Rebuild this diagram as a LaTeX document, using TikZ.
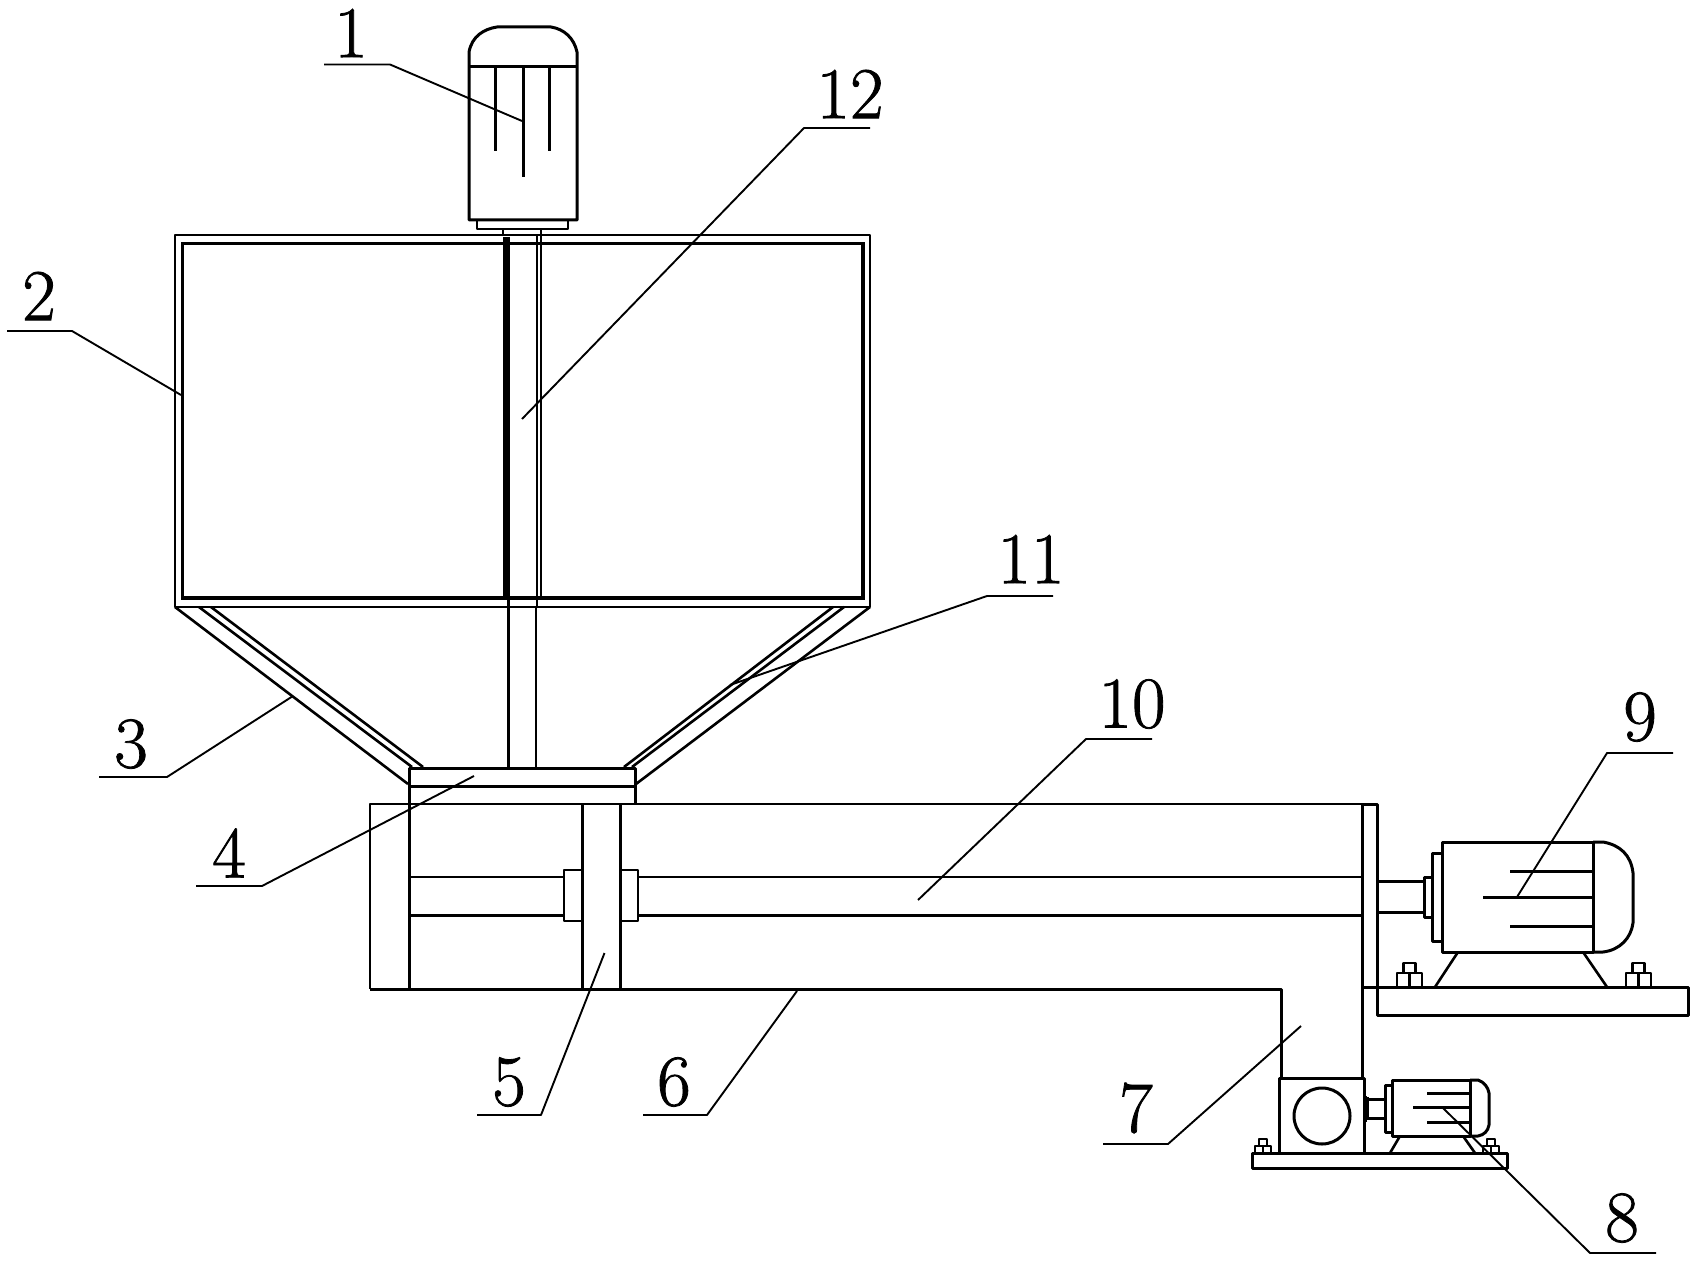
\documentclass[tikz,border=0pt]{standalone}
\usepackage{fontspec}
\newfontfamily\numfont[FakeBold=1.1]{Latin Modern Roman}
\tikzset{
  part/.style={line width=3pt,line join=round},
  fine part/.style={line width=2.6pt,line join=round},
  leader/.style={line width=1.9pt,line join=round},
  num/.style={font=\fontsize{73}{73}\numfont,inner sep=0pt},
}
\begin{document}
\begin{tikzpicture}[x=1pt,y=-1pt]
\useasboundingbox (0,0) rectangle (1699,1265);

% mixer motor
\draw[part] (469,220) -- (469,52) .. controls (472,36) and (484,29) .. (497,27) -- (551,27)
  .. controls (564,29) and (574,38) .. (577,52) -- (577,220) -- cycle;
\draw[part] (469,67) -- (577,67);
\draw[part] (495,67) -- (495,151) (523,67) -- (523,177) (549,67) -- (549,151);
\draw[fine part] (477,220) -- (477,229) -- (568,229) -- (568,220);
\draw[fine part] (503,229) -- (503,235) (541,229) -- (541,235);

% tank
\draw[fine part] (175,235) rectangle (870,607);
\draw[line width=3.8pt] (182.5,243.5) rectangle (863,598);
\draw[line width=7pt] (506,237) -- (506,598);
\draw[fine part] (537,235) -- (537,607) (541,235) -- (541,598);
\draw[part] (508,598) -- (508,768);
\draw[fine part] (536,607) -- (536,768);

% funnel
\draw[fine part] (175,607) -- (408,784) (199,607) -- (412,767) (211,607) -- (423,767);
\draw[fine part] (870,607) -- (636,784) (844,607) -- (632,767) (833,607) -- (624,767);

% plate under the funnel
\draw[part] (409,989) -- (409,768) -- (635,768) -- (635,803);
\draw[part] (409,786) -- (635,786);

% trough
\draw[fine part] (1362,804) -- (370,804) -- (370,989);
\draw[part] (370,989) -- (1281,989) -- (1281,1078);
\draw[part] (1362,804) -- (1362,1078);
\draw[part] (1362,804) -- (1377,804) -- (1377,987) (1362,987) -- (1377,987);
\draw[fine part] (582.5,804) -- (582.5,989);
\draw[part] (620,804) -- (620,989);

% screw shaft
\draw[fine part] (409,877) -- (564,877) (638,877) -- (1362,877);
\draw[part] (409,915) -- (564,915) (638,915) -- (1362,915);
\draw[fine part] (582.5,870) -- (564,870) -- (564,921) -- (582.5,921);
\draw[fine part] (620,870) -- (638,870) -- (638,921) -- (620,921);

% big motor
\draw[part] (1377,881) -- (1424,881) (1377,912) -- (1424,912);
\draw[part] (1432,877) -- (1424,877) -- (1424,917) -- (1432,917);
\draw[part] (1442,853) -- (1432,853) -- (1432,941) -- (1442,941);
\draw[part] (1442,842) rectangle (1593,952);
\draw[part] (1593,842) -- (1603,842) .. controls (1620,845) and (1631,855) .. (1633,873) -- (1633,923)
  .. controls (1631,938) and (1620,950) .. (1603,952) -- (1593,952);
\draw[part] (1510,871) -- (1593,871) (1483,897) -- (1593,897) (1510,926) -- (1593,926);
\draw[fine part] (1458,952) -- (1435,987) (1583,952) -- (1607,987);
\foreach \boltx in {1409.5,1638.5} {
  \draw[fine part] (\boltx-12.5,987) -- (\boltx-12.5,973) -- (\boltx+12.5,973) -- (\boltx+12.5,987);
  \draw[fine part] (\boltx,973) -- (\boltx,987);
  \draw[fine part] (\boltx-6,973) -- (\boltx-6,963) -- (\boltx+6,963) -- (\boltx+6,973);
}
\draw[part] (1377,987) rectangle (1688,1015);

% gearbox and small motor
\draw[part] (1279,1153) -- (1279,1078) -- (1364,1078) -- (1364,1153);
\draw[part] (1322,1116) circle (28);
\draw[part] (1367,1097) -- (1364,1097) (1367,1120) -- (1364,1120) (1367,1097) -- (1367,1120);
\draw[part] (1367,1099) -- (1385,1099) (1367,1118) -- (1385,1118);
\draw[part] (1392,1085) -- (1385,1085) -- (1385,1132) -- (1392,1132);
\draw[part] (1392,1080) rectangle (1470,1136);
\draw[part] (1470,1080) -- (1478,1080) .. controls (1484,1082) and (1488,1087) .. (1489,1093) -- (1489,1125)
  .. controls (1488,1131) and (1484,1135) .. (1478,1136) -- (1470,1136);
\draw[part] (1427,1093) -- (1470,1093) (1413,1107) -- (1470,1107) (1427,1122) -- (1470,1122);
\draw[fine part] (1400,1136) -- (1390,1153) (1463,1136) -- (1475,1153);
\foreach \boltx in {1263,1491} {
  \draw[fine part] (\boltx-8,1153) -- (\boltx-8,1146) -- (\boltx+8,1146) -- (\boltx+8,1153);
  \draw[fine part] (\boltx,1146) -- (\boltx,1153);
  \draw[fine part] (\boltx-4,1146) -- (\boltx-4,1139) -- (\boltx+4,1139) -- (\boltx+4,1146);
}
\draw[part] (1252,1153) rectangle (1507,1168);

% numbers
\node[num] (n1) at (351,33) {1};
\node[num] (n2) at (39,296) {2};
\node[num] (n3) at (131,744) {3};
\node[num] (n4) at (229,853) {4};
\node[num] (n5) at (509,1082) {5};
\node[num] (n6) at (674,1082) {6};
\node[num] (n7) at (1136,1108) {7};
\node[num] (n8) at (1622,1218) {8};
\node[num] (n9) at (1640,717) {9};
\node[num] (n10) at (1132,704) {10};
\node[num] (n11) at (1031,559) {11};
\node[num] (n12) at (850,94) {12};

% leader ends on the parts
\coordinate (p1) at (522,121);
\coordinate (p2) at (181,395);
\coordinate (p3) at (293,696);
\coordinate (p4) at (474,776);
\coordinate (p5) at (604.5,953);
\coordinate (p6) at (797,991);
\coordinate (p7) at (1301,1026);
\coordinate (p8) at (1443,1108);
\coordinate (p9) at (1517,897);
\coordinate (p10) at (918,900);
\coordinate (p11) at (730,685);
\coordinate (p12) at (522,419);

% leaders with the rule under each number
\draw[leader] (324,64.5) -- (390,64.5) -- (p1);
\draw[leader] (7,331) -- (72,331) -- (p2);
\draw[leader] (99,777) -- (167,777) -- (p3);
\draw[leader] (196,886) -- (262,886) -- (p4);
\draw[leader] (477,1115) -- (541,1115) -- (p5);
\draw[leader] (643,1115) -- (707,1115) -- (p6);
\draw[leader] (1103,1144) -- (1168,1144) -- (p7);
\draw[leader] (1656,1253) -- (1590,1253) -- (p8);
\draw[leader] (1673,753) -- (1607,753) -- (p9);
\draw[leader] (1152,739) -- (1086,739) -- (p10);
\draw[leader] (1053,596) -- (987,596) -- (p11);
\draw[leader] (870,128) -- (804,128) -- (p12);
\end{tikzpicture}
\end{document}
